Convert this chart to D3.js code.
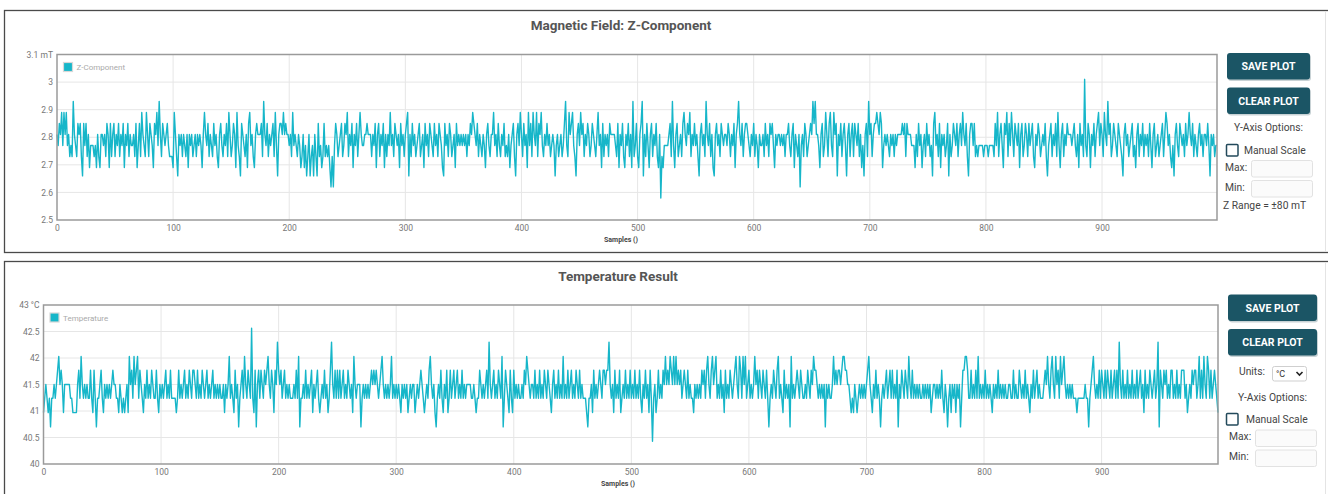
<!DOCTYPE html>
<html>
<head>
<meta charset="utf-8">
<script src="https://cdn.jsdelivr.net/npm/d3@7"></script>
<style>
body { margin: 0; background: #fff; font-family: Roboto, "Open Sans", sans-serif; }
</style>
</head>
<body>
<script>
// Z component samples (mT), 1000 samples
var zSamples = [
2.81,2.77,2.85,2.81,2.89,2.77,2.89,2.81,2.89,2.77,2.81,2.73,2.77,2.73,2.93,2.81,2.77,2.73,2.85,2.81,2.85,2.73,2.66,2.85,2.77,
2.85,2.73,2.81,2.69,2.77,2.77,2.77,2.73,2.77,2.69,2.81,2.73,2.69,2.81,2.81,2.77,2.81,2.73,2.85,2.81,2.69,2.85,2.73,2.81,2.85,
2.73,2.81,2.77,2.85,2.73,2.81,2.77,2.85,2.69,2.81,2.77,2.85,2.73,2.81,2.77,2.77,2.81,2.73,2.85,2.69,2.77,2.85,2.73,2.89,2.81,
2.77,2.73,2.89,2.81,2.73,2.85,2.81,2.77,2.69,2.85,2.81,2.89,2.77,2.93,2.81,2.73,2.85,2.81,2.77,2.81,2.85,2.77,2.73,2.73,2.73,
2.69,2.89,2.81,2.73,2.66,2.81,2.77,2.81,2.73,2.81,2.77,2.73,2.81,2.69,2.81,2.77,2.81,2.73,2.77,2.81,2.73,2.81,2.77,2.81,2.77,
2.69,2.81,2.89,2.81,2.77,2.85,2.73,2.81,2.77,2.73,2.85,2.77,2.81,2.73,2.69,2.81,2.85,2.77,2.73,2.81,2.77,2.85,2.73,2.89,2.81,
2.73,2.77,2.85,2.81,2.69,2.89,2.77,2.73,2.66,2.85,2.81,2.77,2.73,2.81,2.69,2.85,2.89,2.77,2.81,2.73,2.69,2.81,2.85,2.81,2.81,
2.81,2.85,2.73,2.93,2.81,2.77,2.85,2.73,2.81,2.77,2.81,2.85,2.73,2.89,2.77,2.66,2.81,2.85,2.85,2.81,2.89,2.81,2.85,2.81,2.81,
2.77,2.81,2.73,2.89,2.77,2.81,2.77,2.73,2.81,2.77,2.69,2.73,2.81,2.69,2.77,2.66,2.73,2.81,2.66,2.73,2.77,2.66,2.81,2.73,2.66,
2.85,2.73,2.77,2.69,2.73,2.85,2.73,2.77,2.73,2.77,2.69,2.62,2.73,2.62,2.77,2.85,2.81,2.73,2.77,2.81,2.85,2.73,2.77,2.85,2.81,
2.89,2.73,2.81,2.77,2.85,2.69,2.81,2.77,2.85,2.73,2.81,2.89,2.81,2.77,2.77,2.81,2.81,2.85,2.81,2.81,2.81,2.73,2.81,2.77,2.85,
2.69,2.81,2.85,2.73,2.81,2.77,2.85,2.69,2.81,2.73,2.81,2.77,2.89,2.77,2.81,2.73,2.85,2.81,2.77,2.81,2.69,2.85,2.77,2.81,2.73,
2.81,2.85,2.89,2.66,2.81,2.73,2.85,2.77,2.81,2.73,2.77,2.81,2.85,2.73,2.77,2.81,2.69,2.85,2.77,2.81,2.73,2.85,2.81,2.77,2.73,
2.85,2.77,2.81,2.73,2.85,2.81,2.77,2.69,2.66,2.85,2.77,2.81,2.73,2.85,2.81,2.73,2.77,2.81,2.69,2.85,2.77,2.81,2.77,2.81,2.77,
2.81,2.77,2.81,2.73,2.81,2.77,2.85,2.81,2.89,2.85,2.81,2.77,2.85,2.73,2.81,2.77,2.73,2.81,2.77,2.69,2.81,2.85,2.77,2.73,2.81,
2.81,2.89,2.77,2.81,2.73,2.85,2.77,2.73,2.81,2.77,2.85,2.73,2.77,2.73,2.81,2.69,2.77,2.81,2.85,2.73,2.66,2.81,2.85,2.77,2.89,
2.81,2.73,2.85,2.77,2.81,2.69,2.89,2.77,2.85,2.73,2.89,2.81,2.77,2.89,2.73,2.85,2.81,2.89,2.77,2.73,2.81,2.77,2.85,2.77,2.81,
2.73,2.77,2.81,2.77,2.66,2.77,2.81,2.73,2.77,2.81,2.73,2.77,2.85,2.93,2.77,2.73,2.89,2.81,2.85,2.89,2.77,2.73,2.66,2.81,2.85,
2.77,2.89,2.81,2.85,2.73,2.81,2.77,2.85,2.81,2.73,2.77,2.85,2.81,2.77,2.73,2.81,2.89,2.77,2.81,2.69,2.85,2.73,2.81,2.77,2.81,
2.73,2.85,2.81,2.81,2.81,2.81,2.77,2.73,2.85,2.69,2.81,2.77,2.85,2.73,2.69,2.81,2.77,2.85,2.73,2.81,2.69,2.93,2.73,2.77,2.85,
2.73,2.69,2.81,2.85,2.93,2.66,2.81,2.73,2.85,2.77,2.69,2.81,2.85,2.73,2.81,2.77,2.85,2.73,2.69,2.81,2.58,2.73,2.69,2.77,2.77,
2.77,2.77,2.81,2.85,2.73,2.93,2.77,2.69,2.81,2.85,2.73,2.77,2.81,2.73,2.85,2.89,2.81,2.77,2.85,2.81,2.89,2.73,2.81,2.77,2.85,
2.77,2.81,2.73,2.66,2.81,2.85,2.77,2.81,2.73,2.93,2.81,2.77,2.85,2.73,2.81,2.69,2.66,2.81,2.85,2.77,2.81,2.73,2.85,2.81,2.77,
2.81,2.81,2.77,2.85,2.81,2.73,2.81,2.77,2.85,2.69,2.81,2.85,2.93,2.81,2.77,2.85,2.73,2.81,2.85,2.85,2.81,2.77,2.73,2.81,2.77,
2.85,2.73,2.81,2.77,2.69,2.81,2.77,2.77,2.81,2.73,2.85,2.77,2.81,2.73,2.85,2.81,2.85,2.77,2.69,2.81,2.77,2.81,2.81,2.77,2.81,
2.77,2.81,2.73,2.81,2.81,2.85,2.77,2.73,2.81,2.85,2.69,2.81,2.77,2.73,2.81,2.62,2.77,2.81,2.73,2.85,2.81,2.73,2.77,2.81,2.85,
2.81,2.93,2.85,2.93,2.81,2.81,2.77,2.69,2.81,2.85,2.73,2.77,2.89,2.81,2.73,2.85,2.89,2.77,2.73,2.89,2.81,2.85,2.66,2.81,2.77,
2.85,2.73,2.81,2.85,2.77,2.66,2.81,2.85,2.73,2.81,2.85,2.73,2.85,2.81,2.77,2.85,2.73,2.81,2.69,2.77,2.66,2.81,2.85,2.73,2.93,
2.81,2.85,2.73,2.81,2.85,2.85,2.89,2.85,2.81,2.89,2.85,2.69,2.77,2.81,2.77,2.81,2.77,2.73,2.81,2.77,2.81,2.73,2.81,2.77,2.81,
2.81,2.81,2.81,2.85,2.81,2.85,2.73,2.85,2.81,2.81,2.81,2.77,2.77,2.77,2.69,2.81,2.73,2.85,2.77,2.81,2.69,2.77,2.81,2.73,2.85,
2.77,2.81,2.73,2.77,2.66,2.85,2.89,2.77,2.81,2.73,2.85,2.69,2.81,2.77,2.81,2.73,2.77,2.85,2.66,2.81,2.73,2.77,2.85,2.81,2.77,
2.85,2.73,2.81,2.85,2.77,2.89,2.81,2.77,2.85,2.73,2.66,2.81,2.85,2.85,2.77,2.85,2.73,2.77,2.73,2.77,2.77,2.77,2.77,2.73,2.77,
2.77,2.77,2.73,2.77,2.77,2.77,2.77,2.73,2.85,2.77,2.89,2.73,2.81,2.85,2.77,2.69,2.85,2.81,2.89,2.73,2.85,2.77,2.89,2.81,2.73,
2.85,2.81,2.77,2.85,2.69,2.81,2.85,2.73,2.77,2.85,2.81,2.73,2.85,2.77,2.81,2.85,2.73,2.69,2.81,2.77,2.85,2.81,2.73,2.77,2.81,
2.77,2.85,2.73,2.66,2.77,2.81,2.85,2.73,2.81,2.77,2.85,2.73,2.89,2.77,2.69,2.81,2.85,2.73,2.81,2.77,2.85,2.81,2.81,2.81,2.77,
2.81,2.85,2.77,2.73,2.81,2.69,2.85,2.77,2.81,2.73,3.01,2.77,2.73,2.85,2.81,2.69,2.81,2.77,2.85,2.73,2.81,2.85,2.89,2.77,2.85,
2.81,2.73,2.89,2.81,2.77,2.93,2.81,2.85,2.73,2.77,2.85,2.81,2.77,2.73,2.85,2.81,2.77,2.73,2.66,2.81,2.85,2.77,2.81,2.73,2.77,
2.81,2.85,2.73,2.77,2.69,2.81,2.85,2.73,2.81,2.77,2.85,2.73,2.81,2.77,2.81,2.73,2.85,2.77,2.69,2.81,2.85,2.73,2.77,2.81,2.73,
2.77,2.81,2.85,2.73,2.81,2.89,2.85,2.77,2.81,2.73,2.69,2.77,2.66,2.81,2.85,2.77,2.73,2.85,2.81,2.77,2.81,2.73,2.85,2.77,2.81,
2.89,2.81,2.77,2.85,2.73,2.81,2.77,2.73,2.81,2.85,2.77,2.81,2.73,2.81,2.81,2.77,2.85,2.77,2.66,2.81,2.77,2.81,2.73,2.77,2.77
];

// temperature samples (°C), 1000 samples
var tempSamples = [
40.97,41.24,41.5,41.24,40.97,41.24,40.7,41.24,41.24,41.5,41.24,41.5,41.77,42.03,41.5,41.77,41.5,40.97,41.5,41.5,41.5,41.5,41.5,41.24,41.24,
40.97,40.97,40.97,40.97,41.5,41.77,41.24,42.03,41.5,41.24,41.5,41.24,41.5,41.24,41.24,41.77,41.24,40.97,41.77,41.24,40.7,41.24,41.24,41.5,41.77,
41.24,40.97,41.5,41.24,41.5,41.24,41.5,41.24,41.5,41.77,41.5,41.5,41.24,41.24,40.97,41.5,41.24,40.97,41.24,40.97,41.24,41.5,40.97,42.03,41.5,
41.77,41.24,42.03,41.5,41.77,42.03,41.24,41.77,41.5,41.24,40.97,41.5,41.24,41.77,41.24,41.5,41.24,41.77,41.5,41.24,41.24,41.77,41.24,40.97,41.5,
41.24,41.5,41.24,41.5,41.77,41.24,41.5,41.24,41.77,41.24,41.24,41.24,41.24,40.97,41.24,41.77,41.24,41.5,41.24,41.5,41.77,41.24,41.5,41.24,41.77,
41.5,41.24,41.77,41.77,41.5,41.24,41.77,41.24,41.5,41.24,41.77,41.5,41.24,41.5,41.77,41.24,41.5,41.24,41.5,41.77,41.24,41.5,41.24,41.5,41.24,
41.5,41.24,41.24,41.5,40.97,41.5,41.24,41.5,42.03,41.24,41.5,41.24,40.97,41.77,41.24,41.5,40.7,41.24,41.5,41.77,41.24,42.03,41.5,41.24,41.77,
41.5,41.24,42.56,41.24,40.97,41.77,40.7,41.5,41.77,41.24,41.77,41.5,41.24,41.77,41.5,41.77,42.03,41.5,41.24,41.77,41.5,40.97,41.77,41.5,42.3,
41.77,41.5,41.77,41.24,41.5,41.77,41.24,41.5,41.24,41.5,41.24,41.24,41.24,41.5,41.24,41.77,41.24,42.03,40.7,41.24,41.24,41.5,41.24,41.77,41.24,
41.5,41.24,41.5,41.77,40.97,41.5,41.24,41.5,41.77,41.24,40.97,41.24,41.5,41.24,41.77,41.24,41.5,40.97,41.24,41.77,42.3,41.5,41.24,41.77,41.24,
41.77,41.24,41.77,41.24,41.5,41.77,41.24,41.5,41.24,41.77,41.5,41.24,41.5,40.97,42.03,41.5,41.24,41.5,41.5,41.5,40.7,41.24,41.5,41.24,41.5,
41.24,41.5,41.24,41.5,41.77,41.5,41.77,41.5,41.77,41.5,41.24,41.5,41.77,42.03,41.5,41.24,41.5,41.24,41.5,41.24,41.5,42.03,41.24,41.5,41.24,
41.5,41.24,41.5,41.24,40.97,41.5,41.24,41.5,41.24,41.5,40.97,41.24,41.5,41.24,41.5,41.5,40.97,41.24,41.5,41.24,41.5,41.77,41.5,41.24,40.97,
41.24,41.5,41.24,41.77,42.03,41.5,41.24,41.5,40.97,40.7,41.24,41.5,41.24,41.77,41.24,40.97,41.5,41.24,41.77,40.97,41.24,41.77,41.24,41.5,41.77,
41.24,41.5,41.77,41.24,41.5,41.24,41.77,41.24,41.5,41.24,41.5,41.5,41.5,41.5,41.24,41.24,41.5,41.24,40.97,41.24,41.24,41.77,41.5,41.24,41.5,
41.24,41.5,41.77,41.24,42.3,41.5,41.24,41.5,41.77,41.24,41.5,41.24,41.77,41.5,41.24,42.03,40.7,41.24,41.77,41.5,41.24,40.97,41.77,41.24,40.97,
41.77,41.24,41.5,41.24,41.5,41.24,41.24,41.5,41.24,41.77,41.5,42.03,41.77,41.5,41.24,41.5,41.5,41.24,41.77,41.24,41.5,41.24,41.77,41.24,41.5,
41.24,41.77,41.5,41.24,41.77,41.5,41.24,40.97,41.5,41.77,41.24,41.5,41.24,41.77,41.24,41.5,41.24,42.03,41.24,41.5,41.24,41.77,41.24,41.5,41.77,
41.24,41.5,41.24,41.77,41.5,41.24,41.77,41.24,41.5,41.24,41.24,41.24,40.97,40.7,41.24,41.24,41.5,40.97,41.77,41.24,41.5,41.24,41.5,41.77,41.5,
41.24,41.77,41.77,41.5,41.77,41.77,42.3,41.5,41.24,41.5,40.97,41.77,41.24,41.5,41.24,41.77,40.97,41.24,41.5,41.24,41.77,41.24,41.5,41.24,41.77,
41.24,41.5,41.24,41.77,41.24,41.5,41.24,41.77,41.24,40.97,41.5,41.24,41.77,41.24,41.5,40.97,41.77,41.24,40.43,41.24,41.5,40.97,41.24,41.77,41.24,
41.5,41.24,41.77,41.5,42.03,41.5,41.77,41.5,42.03,41.77,41.5,42.03,41.5,42.03,41.5,41.77,41.5,41.77,41.24,41.5,41.77,41.5,41.24,41.77,41.24,
41.5,41.24,41.24,40.97,41.5,41.24,41.5,41.24,41.5,41.24,41.77,41.5,41.77,41.24,41.77,42.03,41.5,41.24,41.77,42.03,41.5,41.77,42.03,41.24,41.5,
41.24,41.77,41.24,41.5,40.97,41.77,41.24,41.5,41.24,41.77,41.5,41.24,41.5,41.77,42.03,41.5,41.24,42.03,41.77,41.24,42.03,41.5,42.03,41.24,41.5,
41.77,41.24,41.5,41.24,41.5,42.03,41.5,41.77,41.24,41.77,41.5,41.24,41.77,41.5,41.24,41.77,41.24,40.7,41.24,41.5,41.24,41.77,41.5,41.24,41.77,
42.03,41.24,41.5,41.24,40.97,41.77,41.24,41.5,41.24,41.5,40.7,42.03,41.24,41.5,41.24,41.5,41.77,41.5,41.24,41.77,41.5,41.24,41.24,41.5,41.24,
41.77,41.5,41.24,41.77,41.5,42.03,41.77,41.77,41.5,41.24,41.5,41.24,41.5,41.24,41.5,40.7,41.5,41.24,41.5,41.24,41.24,41.5,42.03,41.5,41.77,
41.5,41.77,41.77,41.5,41.77,42.03,42.03,41.77,41.77,41.5,41.5,41.24,40.97,41.24,40.97,41.5,41.24,40.97,41.24,41.5,41.24,41.5,41.24,41.5,41.24,
41.5,41.77,42.03,41.5,41.24,40.97,41.5,41.24,41.77,41.24,41.5,41.24,40.7,41.24,41.5,41.24,41.5,41.77,41.24,41.5,41.77,41.24,41.77,41.24,41.5,
41.24,41.77,40.7,41.5,41.24,41.77,41.5,41.24,41.77,41.5,41.24,42.03,41.5,41.24,41.77,41.24,41.5,41.24,41.5,41.24,41.5,41.24,41.24,41.5,41.24,
41.5,41.24,41.5,41.24,41.5,40.97,41.24,41.5,41.5,41.24,41.5,41.24,41.5,41.24,41.77,41.24,40.97,41.5,41.24,40.7,41.24,41.5,40.97,41.5,41.24,
41.5,40.97,41.5,41.24,41.5,40.7,41.24,41.77,41.77,42.03,42.03,41.77,41.24,41.24,41.77,41.24,41.5,41.24,41.77,41.24,42.03,41.24,41.5,41.24,41.5,
41.24,41.77,41.24,41.5,41.24,41.5,41.24,40.97,41.5,41.24,41.5,41.24,41.77,41.24,41.5,41.24,41.5,41.24,41.5,41.24,41.24,41.5,41.5,41.24,41.24,
41.77,41.24,41.5,41.24,41.24,41.77,41.5,41.24,41.5,41.24,41.77,41.24,41.5,41.24,40.97,41.5,41.24,41.77,41.24,41.5,41.77,41.24,41.5,41.24,41.24,
41.24,41.5,41.77,41.5,42.03,41.5,41.24,41.77,42.03,41.5,41.24,42.03,41.5,41.77,41.24,42.03,41.5,41.77,42.03,41.5,41.24,41.5,41.24,41.5,41.24,
41.5,41.24,41.24,41.24,40.97,41.24,41.24,41.24,41.24,41.24,41.24,41.5,41.24,41.24,40.7,41.24,41.5,41.77,42.03,41.5,41.24,41.5,41.24,41.77,41.24,
41.77,41.5,41.24,41.77,41.24,41.77,41.5,41.24,41.77,41.24,41.5,41.77,41.24,41.77,41.24,42.3,41.5,41.24,41.77,41.24,41.5,41.24,41.77,41.24,41.5,
41.24,41.77,41.24,41.5,41.24,41.77,41.24,41.5,41.77,41.24,41.5,40.97,41.77,41.24,41.5,41.24,41.77,41.5,41.24,41.5,41.77,41.24,41.5,42.3,40.7,
41.77,41.5,41.24,41.77,41.5,41.77,41.24,41.5,41.24,41.77,41.77,41.24,41.5,41.24,41.77,41.24,41.5,41.24,41.77,41.77,41.77,41.24,41.5,40.97,41.24,
41.5,41.24,41.77,41.5,41.77,41.77,41.24,41.5,42.03,41.24,41.77,41.24,42.03,41.5,41.24,42.03,41.77,41.24,41.77,41.24,41.5,41.77,41.5,41.24,40.97
];

var sampleTicks = [0, 100, 200, 300, 400, 500, 600, 700, 800, 900];
var zTicks = [2.5, 2.6, 2.7, 2.8, 2.9, 3, 3.1];
var tempTicks = [40, 40.5, 41, 41.5, 42, 42.5, 43];

var lineColor = "#16b6c9";
var btnColor = "#1b5565";

var svg = d3.select("body").append("svg")
    .attr("width", 1328)
    .attr("height", 494);

function drawPanel(p) {
  var g = svg.append("g");

  // outer frame of the card
  g.append("rect")
    .attr("x", 4.5).attr("y", p.top + 0.5)
    .attr("width", 1340).attr("height", p.height)
    .attr("fill", "#fff").attr("stroke", "#4a4a4a").attr("stroke-width", 1.3);
  g.append("line")
    .attr("x1", 1325.5).attr("x2", 1325.5)
    .attr("y1", p.top + 1).attr("y2", p.top + p.height)
    .attr("stroke", "#e4e4e4");

  g.append("text")
    .attr("x", p.titleX).attr("y", p.top + 19.5)
    .attr("text-anchor", "middle")
    .style("font-size", "13.5px").style("font-weight", "bold").style("fill", "#555")
    .text(p.title);

  var x = d3.scaleLinear().domain([0, p.data.length - 1]).range([p.left, p.right]);
  var y = d3.scaleLinear().domain([p.ticks[0], p.ticks[p.ticks.length - 1]]).range([p.bottom, p.plotTop]);

  // grid
  g.selectAll(".vgrid").data(sampleTicks.slice(1)).enter().append("line")
    .attr("x1", function(d) { return x(d); }).attr("x2", function(d) { return x(d); })
    .attr("y1", p.plotTop).attr("y2", p.bottom)
    .attr("stroke", "#e6e6e6").attr("stroke-width", 1);
  g.selectAll(".hgrid").data(p.ticks.slice(1, -1)).enter().append("line")
    .attr("x1", p.left).attr("x2", p.right)
    .attr("y1", function(d) { return y(d); }).attr("y2", function(d) { return y(d); })
    .attr("stroke", "#e6e6e6").attr("stroke-width", 1);

  var yAxis = d3.axisLeft(y).tickValues(p.ticks).tickSize(0).tickPadding(4)
    .tickFormat(function(d, i) { return i == p.ticks.length - 1 ? d + " " + p.unit : d; });
  var ya = g.append("g").attr("transform", "translate(" + p.left + ",0)").call(yAxis);
  var xAxis = d3.axisBottom(x).tickValues(sampleTicks).tickSize(0).tickPadding(5);
  var xa = g.append("g").attr("transform", "translate(0," + p.bottom + ")").call(xAxis);
  [ya, xa].forEach(function(a) {
    a.select(".domain").remove();
    a.selectAll("text").style("font-family", "Roboto").style("font-size", "8.5px").style("fill", "#777");
  });

  g.append("text")
    .attr("x", p.titleX).attr("y", p.bottom + 22)
    .attr("text-anchor", "middle")
    .style("font-size", "7px").style("font-weight", "bold").style("fill", "#444")
    .text("Samples ()");

  var line = d3.line()
    .x(function(d, i) { return x(i); })
    .y(function(d) { return y(d); });
  g.append("path").datum(p.data)
    .attr("d", line)
    .attr("fill", "none").attr("stroke", lineColor).attr("stroke-width", 1.4)
    .attr("stroke-linejoin", "round");

  g.append("rect")
    .attr("x", p.left).attr("y", p.plotTop)
    .attr("width", p.right - p.left).attr("height", p.bottom - p.plotTop)
    .attr("fill", "none").attr("stroke", "#9a9a9a").attr("stroke-width", 1.5);

  // legend
  g.append("rect")
    .attr("x", p.left + 6.5).attr("y", p.plotTop + 8)
    .attr("width", 9).attr("height", 9)
    .attr("fill", lineColor).attr("stroke", "#d8d8d8").attr("stroke-width", 1.2);
  g.append("text")
    .attr("x", p.left + 19.5).attr("y", p.plotTop + 15.5)
    .style("font-size", "8px").style("fill", "#aaa")
    .text(p.legend);

  // side controls
  var c = p.ctrl;
  function button(label, top) {
    g.append("rect")
      .attr("x", c.x + 1).attr("y", top + 1.5).attr("width", c.w).attr("height", 26.5).attr("rx", 3)
      .attr("fill", "#c8d2d5");
    g.append("rect")
      .attr("x", c.x).attr("y", top).attr("width", c.w).attr("height", 26.5).attr("rx", 3)
      .attr("fill", btnColor);
    g.append("text")
      .attr("x", c.x + c.w / 2).attr("y", top + 17.3)
      .attr("text-anchor", "middle")
      .style("font-size", "10.5px").style("font-weight", "bold").style("fill", "#fff")
      .text(label);
  }
  button("SAVE PLOT", c.save);
  button("CLEAR PLOT", c.clear);

  function label(txt, lx, ly, anchor) {
    g.append("text").attr("x", lx).attr("y", ly)
      .attr("text-anchor", anchor || "start")
      .style("font-size", "10.3px").style("fill", "#444")
      .text(txt);
  }
  function inputBox(bx, by) {
    g.append("rect").attr("x", bx + 0.5).attr("y", by + 0.5).attr("width", 61).attr("height", 16.5)
      .attr("rx", 2).attr("fill", "#fbfbfb").attr("stroke", "#e2e2e2");
  }

  if (c.units) {
    label("Units:", c.x + 11, c.units + 8);
    g.append("rect").attr("x", c.x + 44.5).attr("y", c.units - 0.5).attr("width", 34).attr("height", 14.5)
      .attr("rx", 2).attr("fill", "#fff").attr("stroke", "#cfcfcf");
    g.append("text").attr("x", c.x + 48).attr("y", c.units + 10)
      .style("font-size", "9px").style("fill", "#333").text("°C");
    g.append("path")
      .attr("d", "M" + (c.x + 68.5) + "," + (c.units + 5) + "l3,3l3,-3")
      .attr("fill", "none").attr("stroke", "#222").attr("stroke-width", 1.6);
  }
  label("Y-Axis Options:", c.x + c.w / 2, c.opts, "middle");
  g.append("rect").attr("x", 1226.5).attr("y", c.check).attr("width", 11.5).attr("height", 11.5)
    .attr("rx", 1).attr("fill", "#fff").attr("stroke", "#234a5b").attr("stroke-width", 1.5);
  label("Manual Scale", c.manualX, c.check + 9.5);
  label("Max:", c.labelX, c.max + 10.5);
  inputBox(c.boxX, c.max);
  label("Min:", c.labelX, c.min + 10.5);
  inputBox(c.boxX, c.min);
  if (c.range) label(c.range, 1223, c.rangeY);
}

drawPanel({
  top: 10, height: 242,
  title: "Magnetic Field: Z-Component", titleX: 621,
  left: 57, right: 1217, plotTop: 54.5, bottom: 220,
  data: zSamples, ticks: zTicks, unit: "mT", legend: "Z-Component",
  ctrl: { x: 1227, w: 83, save: 53, clear: 87.5, opts: 131,
          check: 144.5, manualX: 1244, labelX: 1225, boxX: 1251, max: 160, min: 180,
          range: "Z Range = \u00b180 mT", rangeY: 208.5 }
});

drawPanel({
  top: 261, height: 240,
  title: "Temperature Result", titleX: 618,
  left: 43.5, right: 1218, plotTop: 305, bottom: 464,
  data: tempSamples, ticks: tempTicks, unit: "\u00b0C", legend: "Temperature",
  ctrl: { x: 1228, w: 89, save: 294.5, clear: 329, opts: 401, units: 367,
          check: 413.5, manualX: 1246, labelX: 1229, boxX: 1255, max: 429.5, min: 449.5 }
});
</script>
</body>
</html>
